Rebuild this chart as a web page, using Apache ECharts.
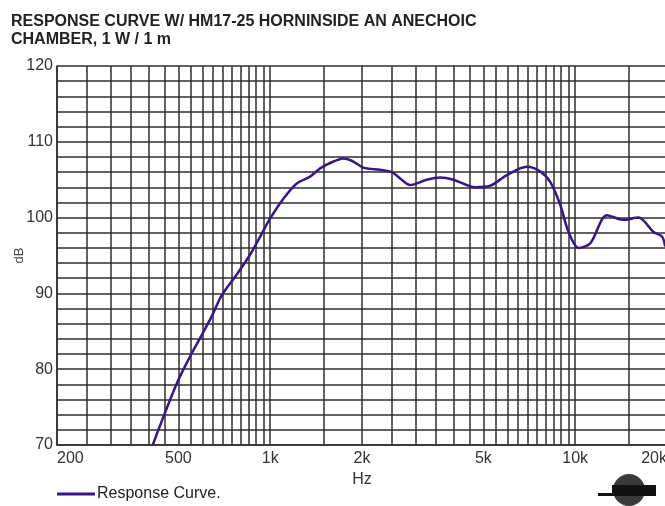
<!DOCTYPE html>
<html>
<head>
<meta charset="utf-8">
<script src="https://cdn.jsdelivr.net/npm/echarts@6/dist/echarts.min.js"></script>
<style>
  html, body { margin: 0; padding: 0; background: #fff; }
  #chart { width: 665px; height: 506px; }
</style>
</head>
<body>
<div id="chart"></div>
<script>
// frequency (Hz) and level (dB)
var freqs = [412, 494, 553, 589, 640, 695, 780, 859, 930, 1000, 1105, 1222, 1351, 1458, 1612, 1738, 1851, 2020, 2293, 2504, 2699, 2875, 3263, 3609, 3989, 4699, 5264, 5970, 6942, 7674, 8280, 8930, 9510, 10250, 11200, 12710, 14400, 16130, 18060, 19250, 19730];
var levels = [70, 78.1, 82.1, 84.1, 86.8, 89.8, 92.6, 95.1, 97.6, 99.9, 102.5, 104.5, 105.4, 106.5, 107.4, 107.8, 107.5, 106.6, 106.3, 106, 105, 104.3, 105, 105.3, 105, 104, 104.2, 105.6, 106.7, 106.1, 104.7, 101.7, 98.1, 96, 96.6, 100.3, 99.7, 100, 98.1, 97.5, 96.2];
// x tick labels
var xLabelValues = [200, 500, 1000, 2000, 5000, 10000, 20000];
var yLabelValues = [70, 80, 90, 100, 110, 120];

// vertical grid: half-decade steps (50 Hz, 500 Hz, 5 kHz)
var xGrid = [];
for (var f = 200; f <= 1000; f += 50) xGrid.push(f);
for (var f = 1500; f <= 10000; f += 500) xGrid.push(f);
xGrid.push(15000, 20000);

var seriesData = freqs.map(function(f, i) { return [f, levels[i]]; });

var myChart = echarts.init(document.getElementById('chart'));
var gridColor = '#2e2e2e';
var option = {
  animation: false,
  backgroundColor: '#fff',
  title: {
    text: 'RESPONSE CURVE W/ HM17-25 HORNINSIDE AN ANECHOIC\nCHAMBER, 1 W / 1 m',
    left: 11,
    top: 13,
    padding: 0,
    textStyle: { fontFamily: 'Liberation Sans', fontSize: 16, fontWeight: 'bold', color: '#222', lineHeight: 18 }
  },
  legend: {
    left: 57,
    top: 486,
    padding: 0,
    icon: 'rect',
    itemWidth: 38,
    itemHeight: 3,
    textStyle: { fontFamily: 'Liberation Sans', fontSize: 16, color: '#222', padding: [2, 0, 0, -3] },
    data: ['Response Curve.']
  },
  grid: { left: 57, top: 66, width: 610, bottom: 61, outerBoundsMode: 'none', containLabel: false },
  xAxis: {
    type: 'log',
    min: 200,
    max: 20000,
    name: 'Hz',
    nameLocation: 'middle',
    nameGap: 17,
    nameTextStyle: { fontFamily: 'Liberation Sans', fontSize: 16, color: '#333' },
    axisLine: { lineStyle: { color: gridColor, width: 1.5 } },
    axisTick: { show: true, length: 0, customValues: xGrid },
    axisLabel: {
      customValues: xLabelValues,
      margin: 6,
      fontFamily: 'Liberation Sans', fontSize: 16, color: '#333',
      alignMinLabel: 'left', alignMaxLabel: 'right',
      formatter: function(v) { return v >= 1000 ? (v / 1000) + 'k' : String(v); }
    },
    splitLine: { show: true, lineStyle: { color: gridColor, width: 1.5 } }
  },
  yAxis: {
    type: 'value',
    min: 70,
    max: 120,
    interval: 2,
    name: 'dB',
    nameLocation: 'middle',
    nameGap: 31,
    nameMoveOverlap: false,
    nameTextStyle: { fontFamily: 'Liberation Sans', fontSize: 13, color: '#444' },
    axisLine: { show: true, lineStyle: { color: gridColor, width: 1.5 } },
    axisTick: { show: false },
    axisLabel: {
      margin: 4,
      fontFamily: 'Liberation Sans', fontSize: 16, color: '#333',
      formatter: function(v) { return yLabelValues.indexOf(v) >= 0 ? String(v) : ''; }
    },
    splitLine: { show: true, lineStyle: { color: gridColor, width: 1.5 } }
  },
  graphic: [
    { type: 'circle', shape: { cx: 629, cy: 490, r: 16 }, style: { fill: '#3a3a3a' } },
    { type: 'rect', shape: { x: 612, y: 485, width: 44, height: 11 }, style: { fill: '#111' } },
    { type: 'rect', shape: { x: 598, y: 493, width: 18, height: 3 }, style: { fill: '#111' } }
  ],
  series: [{
    name: 'Response Curve.',
    type: 'line',
    data: seriesData,
    symbol: 'none',
    smooth: 0.3,
    clip: true,
    lineStyle: { color: '#3b1488', width: 2.5 },
    itemStyle: { color: '#3b1488' }
  }]
};
myChart.setOption(option);
</script>
</body>
</html>
